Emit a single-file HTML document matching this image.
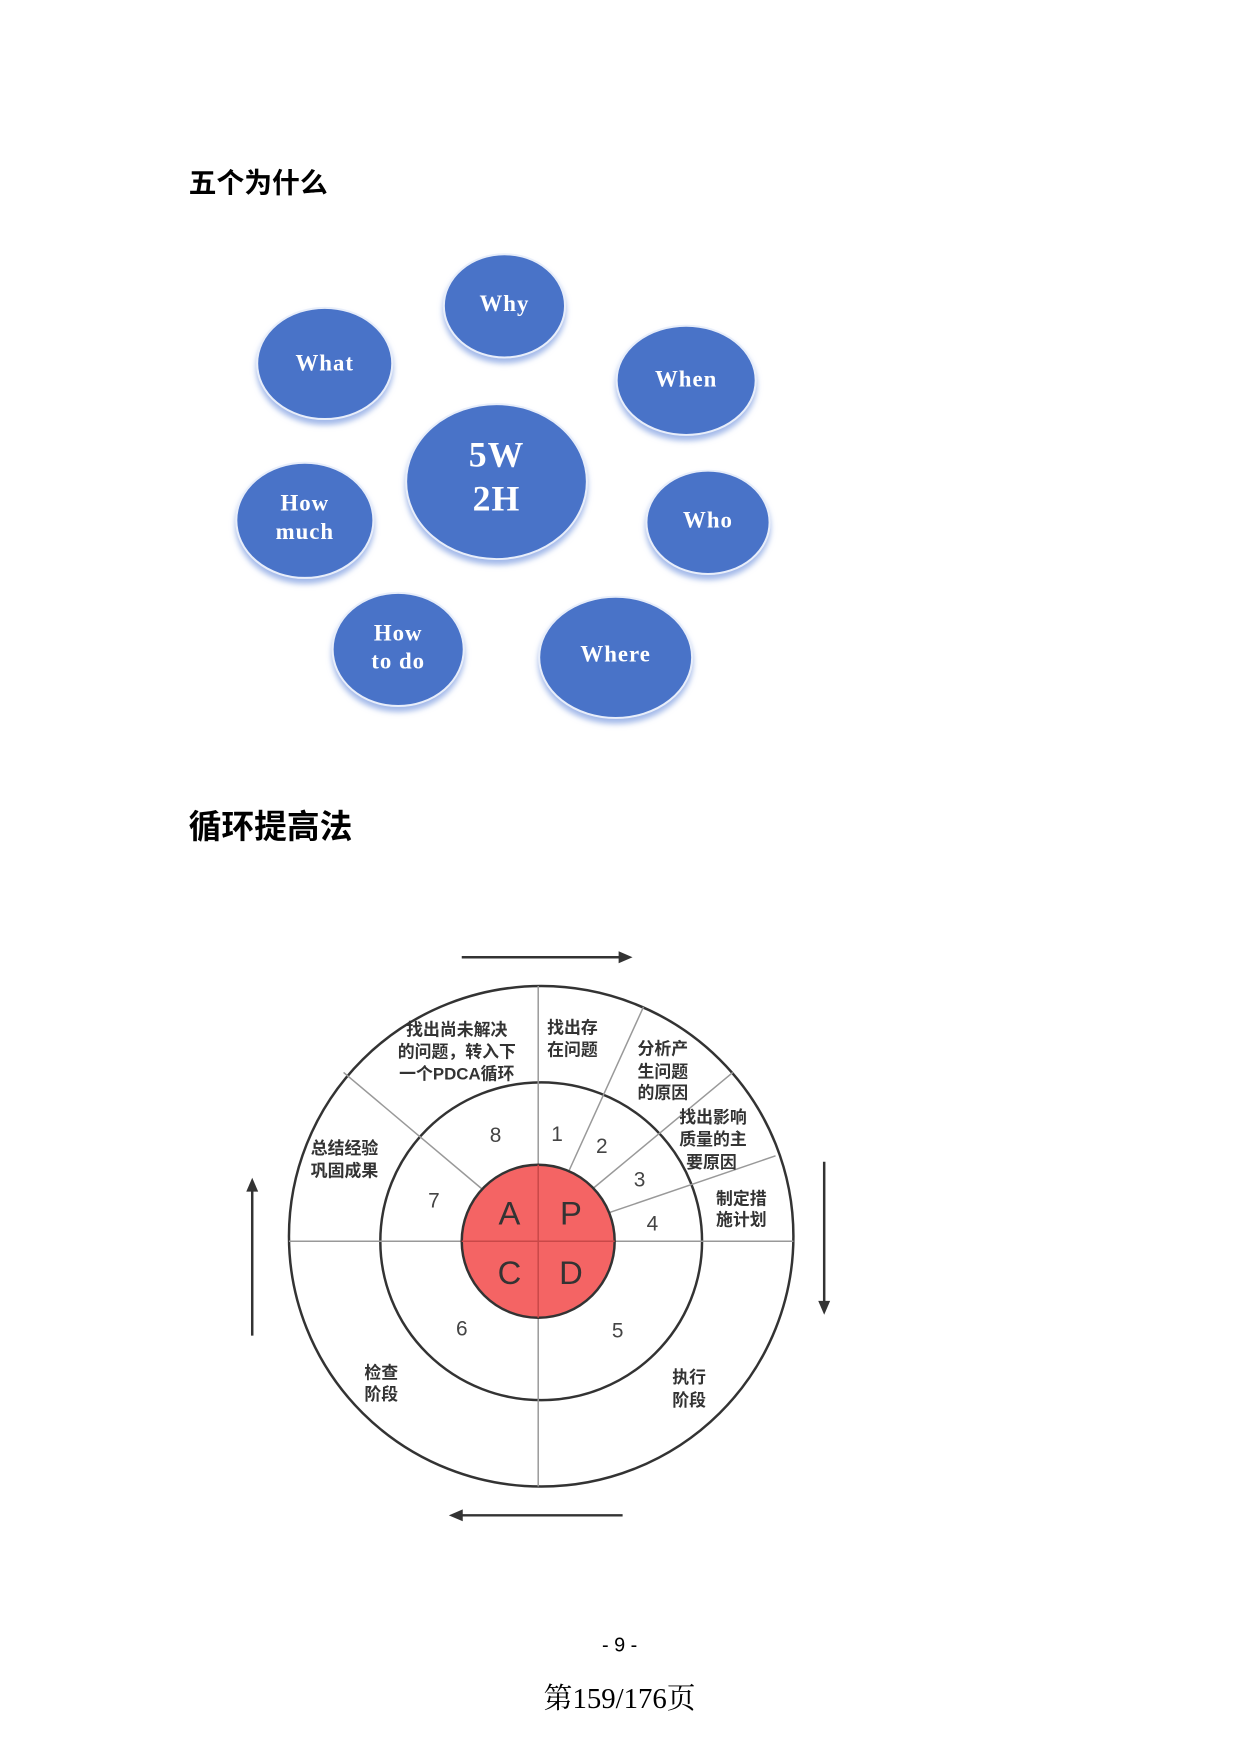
<!DOCTYPE html>
<html><head><meta charset="utf-8"><style>
body{margin:0;background:#fff;}
svg{display:block}
</style></head><body>
<svg width="1240" height="1753" viewBox="0 0 1240 1753" xmlns="http://www.w3.org/2000/svg">
<defs>
<filter id="sh" x="-30%" y="-30%" width="160%" height="170%">
<feDropShadow dx="0" dy="5" stdDeviation="3" flood-color="#7a9ae0" flood-opacity="0.7"/>
</filter>
</defs>
<g transform="scale(0.993)">
<text x="190" y="194" font-family="'Liberation Sans','Noto Sans CJK SC',sans-serif" font-weight="bold" font-size="28">五个为什么</text>
<g fill="#4a73c8" stroke="#e8eefa" stroke-width="2" filter="url(#sh)">
<ellipse cx="508" cy="308" rx="61" ry="52"/>
<ellipse cx="327" cy="366" rx="68" ry="56"/>
<ellipse cx="691" cy="383" rx="70" ry="55"/>
<ellipse cx="500" cy="485" rx="91" ry="78"/>
<ellipse cx="307" cy="524" rx="69" ry="58"/>
<ellipse cx="713" cy="526" rx="62" ry="52"/>
<ellipse cx="401" cy="654" rx="66" ry="57"/>
<ellipse cx="620" cy="662" rx="77" ry="61"/>
</g>
<g fill="#fff" font-family="'Liberation Serif',serif" font-weight="bold" font-size="23" letter-spacing="1" text-anchor="middle">
<text x="508" y="313">Why</text>
<text x="327" y="373">What</text>
<text x="691" y="389">When</text>
<text x="500" y="470" font-size="36">5W</text>
<text x="500" y="514" font-size="36">2H</text>
<text x="307" y="514">How</text>
<text x="307" y="543">much</text>
<text x="713" y="531">Who</text>
<text x="401" y="645">How</text>
<text x="401" y="673">to do</text>
<text x="620" y="666">Where</text>
</g>
<text x="190" y="844" font-family="'Liberation Sans','Noto Sans CJK SC',sans-serif" font-weight="bold" font-size="33">循环提高法</text>

<g stroke="#333" stroke-width="2.5" fill="none">
<ellipse cx="545" cy="1245" rx="254" ry="252"/>
<ellipse cx="545" cy="1250" rx="162" ry="160"/>
</g>
<g stroke="#999" stroke-width="1.5">
<line x1="542" y1="993" x2="542" y2="1497"/>
<line x1="291" y1="1250" x2="799" y2="1250"/>
<line x1="573" y1="1179" x2="648" y2="1014"/>
<line x1="597" y1="1197" x2="738" y2="1080"/>
<line x1="614" y1="1221" x2="781" y2="1164"/>
<line x1="485" y1="1197" x2="346" y2="1080"/>
</g>
<ellipse cx="542" cy="1250" rx="77" ry="77" fill="#f46464" stroke="#333" stroke-width="2.5"/>
<g stroke="#c94848" stroke-width="1.5"><line x1="542" y1="1173" x2="542" y2="1327"/><line x1="465" y1="1250" x2="619" y2="1250"/></g>
<g font-family="'Liberation Sans','DejaVu Sans',sans-serif" font-size="33" fill="#333" text-anchor="middle">
<text x="513" y="1233">A</text><text x="575" y="1233">P</text>
<text x="513" y="1293">C</text><text x="575" y="1293">D</text>
</g>
<g font-family="'Liberation Sans','DejaVu Sans',sans-serif" font-size="21" fill="#444" text-anchor="middle">
<text x="499" y="1150">8</text><text x="561" y="1149">1</text><text x="606" y="1161">2</text>
<text x="644" y="1195">3</text><text x="657" y="1239">4</text><text x="437" y="1216">7</text>
<text x="465" y="1345">6</text><text x="622" y="1347">5</text>
</g>
<g font-family="'Liberation Sans','Noto Sans CJK SC',sans-serif" font-weight="bold" font-size="17" fill="#333">
<text x="460" y="1043" text-anchor="middle">找出尚未解决</text>
<text x="460" y="1065" text-anchor="middle">的问题，转入下</text>
<text x="460" y="1087" text-anchor="middle">一个PDCA循环</text>
<text x="551" y="1041">找出存</text><text x="551" y="1063">在问题</text>
<text x="642" y="1062">分析产</text><text x="642" y="1085">生问题</text><text x="642" y="1106">的原因</text>
<text x="684" y="1131">找出影响</text><text x="684" y="1153">质量的主</text><text x="691" y="1176">要原因</text>
<text x="721" y="1213">制定措</text><text x="721" y="1234">施计划</text>
<text x="313" y="1162">总结经验</text><text x="313" y="1185">巩固成果</text>
<text x="367" y="1388">检查</text><text x="367" y="1410">阶段</text>
<text x="677" y="1393">执行</text><text x="677" y="1416">阶段</text>
</g>
<g stroke="#333" stroke-width="2.5" fill="#333">
<line x1="465" y1="964" x2="625" y2="964"/><polygon points="637,964 623,958 623,970" stroke="none"/>
<line x1="830" y1="1170" x2="830" y2="1312"/><polygon points="830,1324 824,1310 836,1310" stroke="none"/>
<line x1="627" y1="1526" x2="464" y2="1526"/><polygon points="452,1526 466,1520 466,1532" stroke="none"/>
<line x1="254" y1="1345" x2="254" y2="1198"/><polygon points="254,1186 248,1200 260,1200" stroke="none"/>
</g>
<text x="624" y="1663" text-anchor="middle" font-family="'Liberation Sans',sans-serif" font-size="20">- 9 -</text>
<text x="624" y="1720" text-anchor="middle" font-family="'Liberation Serif','Noto Serif CJK SC',serif" font-size="29">第159/176页</text>
</g>
</svg>
</body></html>
